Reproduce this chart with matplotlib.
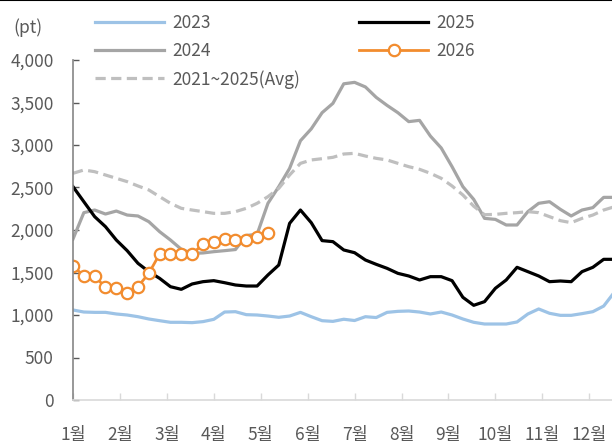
#! /usr/bin/env python3
# -*- coding: utf-8 -*-

## Built in modules

import numpy as np
import matplotlib
matplotlib.use("Agg")
import matplotlib.pyplot as plt
from matplotlib.lines import Line2D


## Data (weekly, pt)

months = ["1월", "2월", "3월", "4월", "5월", "6월",
          "7월", "8월", "9월", "10월", "11월", "12월"]

y2023 = [1059, 1035, 1031, 1031, 1012, 1000, 980, 953, 933, 914,
         914, 910, 922, 949, 1035, 1039, 1004, 1000, 988, 973,
         988, 1031, 980, 933, 925, 950, 935, 980, 970, 1031,
         1043, 1047, 1035, 1012, 1035, 1000, 953, 914, 894, 894,
         894, 918, 1012, 1071, 1020, 996, 996, 1016, 1039, 1105,
         1270]

y2024 = [1894, 2204, 2235, 2188, 2223, 2176, 2165, 2098, 1980, 1882,
         1773, 1725, 1730, 1745, 1757, 1770, 1935, 1950, 2314, 2510,
         2725, 3050, 3190, 3380, 3490, 3720, 3737, 3683, 3560, 3466,
         3380, 3275, 3290, 3105, 2965, 2745, 2510, 2360, 2137, 2125,
         2059, 2059, 2216, 2314, 2333, 2243, 2165, 2235, 2263, 2384,
         2384]

y2025 = [2510, 2333, 2157, 2039, 1882, 1757, 1608, 1510, 1431, 1333,
         1302, 1365, 1392, 1404, 1380, 1353, 1341, 1341, 1471, 1588,
         2078, 2235, 2086, 1875, 1863, 1765, 1733, 1647, 1596, 1549,
         1490, 1459, 1412, 1451, 1451, 1404, 1208, 1114, 1157, 1314,
         1412, 1561, 1510, 1459, 1392, 1400, 1392, 1510, 1561, 1655,
         1655]

y2026 = [1576, 1459, 1455, 1326, 1315, 1255, 1335, 1490, 1718, 1718,
         1718, 1718, 1832, 1862, 1894, 1885, 1885, 1915, 1961]

y_avg = [2667, 2706, 2686, 2647, 2608, 2569, 2518, 2471, 2392, 2314,
         2255, 2235, 2216, 2196, 2196, 2216, 2255, 2314, 2392, 2490,
         2647, 2784, 2824, 2839, 2855, 2894, 2902, 2870, 2843, 2824,
         2784, 2745, 2714, 2667, 2608, 2518, 2412, 2280, 2180, 2184,
         2196, 2204, 2216, 2204, 2157, 2110, 2086, 2137, 2176, 2235,
         2274]

yticks = [0, 500, 1000, 1500, 2000, 2500, 3000, 3500, 4000]


## Main

def main():

    plt.rcParams['font.family'] = ['Noto Sans CJK KR', 'DejaVu Sans']
    txt_color = "#595959"
    fs = 12.5

    fig = plt.figure(figsize=(6.12, 4.46), dpi=100)
    ax = fig.add_axes([73 / 612, 46 / 446, 1 - 73 / 612, 340 / 446])

    weeks = np.arange(len(y2023))
    w26 = np.arange(len(y2026))

    l23, = ax.plot(weeks, y2023, color="#9DC3E6", lw=2.3, label="2023")
    l24, = ax.plot(weeks, y2024, color="#A5A5A5", lw=2.3, label="2024")
    lavg, = ax.plot(weeks, y_avg, color="#BFBFBF", lw=2.3,
                    label="2021~2025(Avg)")
    lavg.set_dashes((3.2, 1.7))
    l25, = ax.plot(weeks, y2025, color="black", lw=2.3, label="2025")
    l26, = ax.plot(w26, y2026, color="#F28C2E", lw=2.0, marker="o",
                   markersize=8.2, markerfacecolor="white",
                   markeredgecolor="#F28C2E", markeredgewidth=1.6,
                   label="2026")

    # axes
    ax.set_ylim(0, 4000)
    ax.set_xlim(0, 539 / 10.83)
    ax.set_yticks(yticks)
    ax.set_yticklabels([f"{v:,}" for v in yticks])
    ax.set_xticks(np.arange(12) * 52 / 12)
    ax.set_xticklabels(months)

    for s in ["top", "right"]:
        ax.spines[s].set_visible(False)
    ax.spines["left"].set_color("#868686")
    ax.spines["left"].set_linewidth(1.2)
    ax.spines["bottom"].set_color("#D9D9D9")
    ax.spines["bottom"].set_linewidth(1.2)

    ax.tick_params(axis="y", direction="in", length=4, width=1,
                   color="#595959", labelsize=fs, labelcolor=txt_color, pad=14)
    ax.tick_params(axis="x", direction="in", length=5, width=1,
                   color="#D9D9D9", labelsize=fs, labelcolor=txt_color, pad=19)

    fig.text(28 / 612, 1 - 28 / 446, "(pt)", fontsize=fs, color=txt_color,
             ha="center", va="center")

    # legend
    fig.legend(handles=[l23, l24, lavg, l25, l26], loc="upper left",
               bbox_to_anchor=(86 / 612, 1 - 5 / 446), ncol=2, frameon=False,
               fontsize=fs, labelcolor=txt_color, handlelength=4,
               handletextpad=0.45, columnspacing=3.4, labelspacing=0.58,
               borderpad=0)

    # top border line of the picture
    fig.add_artist(Line2D([0, 1], [0.999, 0.999], color="black", lw=1.5,
                          transform=fig.transFigure))

    fig.savefig("out.png", dpi=100)


## Run

if __name__ == "__main__":
    main()
